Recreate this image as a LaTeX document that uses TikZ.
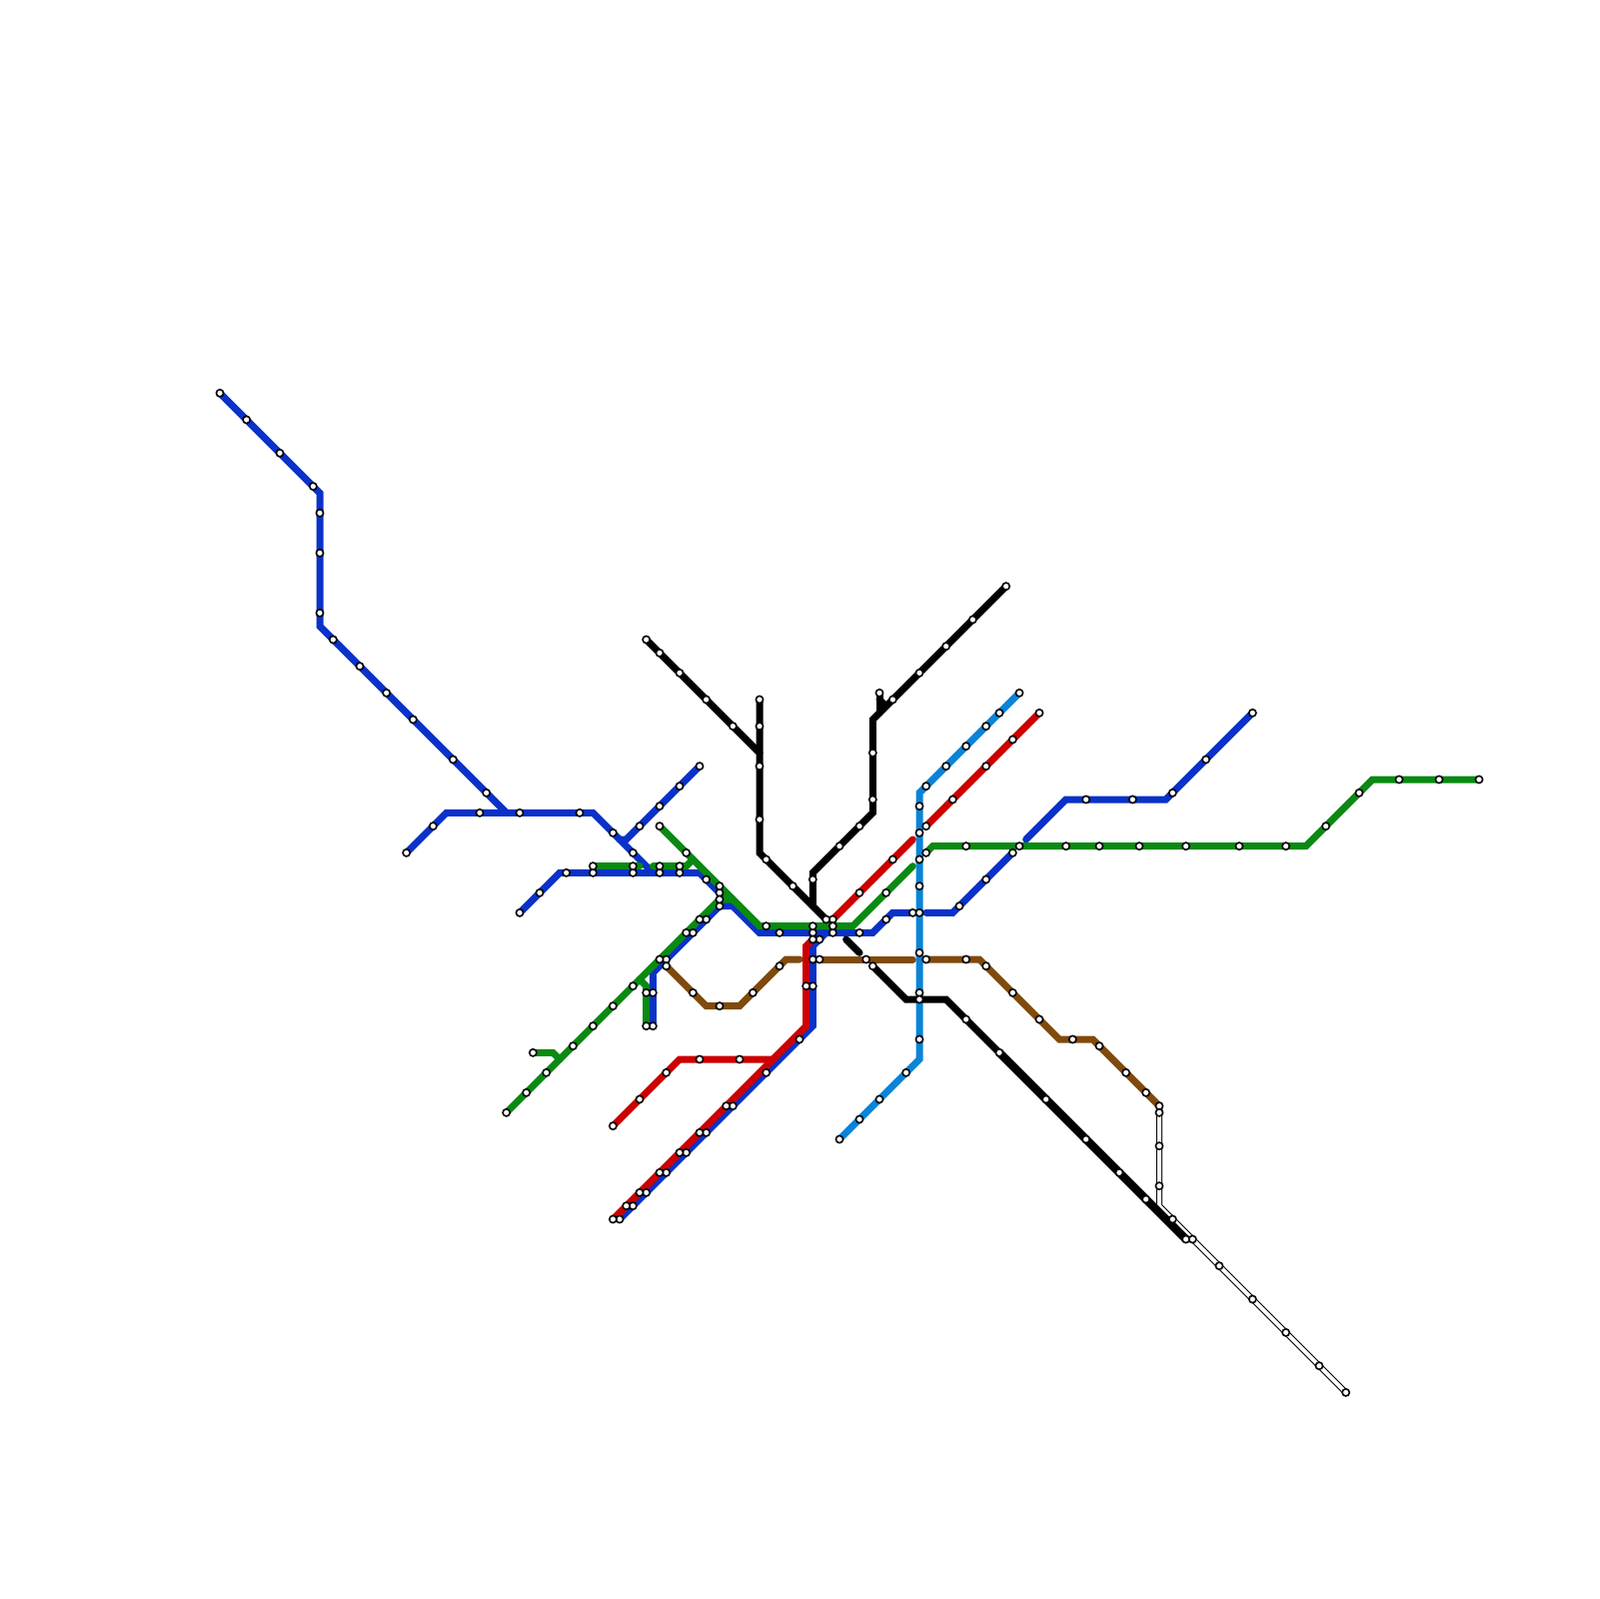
\documentclass[tikz,border=0pt]{standalone}
\usepackage{xcolor}
\usetikzlibrary{backgrounds}
\definecolor{cblue}{HTML}{0A32C8}
\definecolor{cgreen}{HTML}{0A8A12}
\definecolor{cred}{HTML}{CC0000}
\definecolor{cbrown}{HTML}{804A0C}
\definecolor{csky}{HTML}{0A84D8}
\tikzset{
  stn/.style={circle, draw=black, fill=white, line width=0.24mm, inner sep=0pt, outer sep=0pt, minimum size=1.08mm},
  lineb/.style={draw=cblue, line width=1.05mm, line cap=round},
  lineg/.style={draw=cgreen, line width=1.05mm, line cap=round},
  liner/.style={draw=cred, line width=1.05mm, line cap=round},
  linebr/.style={draw=cbrown, line width=1.05mm, line cap=round},
  linesk/.style={draw=csky, line width=1.05mm, line cap=round},
  linek/.style={draw=black, line width=1.05mm, line cap=round},
  linekk/.style={draw=black, line width=1.25mm, line cap=round},
  linew/.style={draw=black, double=white, double distance=0.6mm, line width=0.15mm},
}
\begin{document}
\begin{tikzpicture}[x=1mm, y=-1mm]
  \useasboundingbox (0,0) rectangle (240,240);
  % bends and loose ends
  \foreach \n/\x/\y in {nwa/48/74, nwb/48/94, nwc/76/122, wa/67/122, wb/89/122, wc/98/131,
    ca/94/126, cb/93/126, da/84/131, db/105/131, dc/114/140, dd/131/140, de/134/137,
    ea/139/137, eb/143/137, fa/154/126, fb/160/120, fc/175/120, ga/98/146, gb/110/136,
    ha/124/140, hb/122/142, hc/122/154, ra/137/126, ta/121/142, tb/121/154, ua/102/159, ub/116/159,
    ka/114/139, kb/128/139, kc/137/130, la/140/127, lb/196/127, lc/206/117, ma/110/135,
    na/83/158, nb/84/159, oa/97/148, ob/96/147, pa/96/130, qa/98/130, qb/103/130, qc/104/129,
    va/106/151, vb/111/151, vc/118/144, vd/120/144, wwa/137/144, xa/147/144, xb/159/156, xc/164/156,
    ya/138/119, yb/138/159, ba/114/113, bb/114/128, bc/131/108, bd/131/122, be/122/131, bf/122/136,
    bg/132/107, bh/132/105, bi/133/106, bj/127/141, bk/129/143, bl/136/150, bm/142/150, dla/174/181}
    \coordinate (\n) at (\x,\y);
  % stations
  \foreach \n/\x/\y in {nw1/33/59, nw2/37/63, nw3/42/68, nw4/47/73, nw5/48/77, nw6/48/83, nw7/48/92,
    nw8/50/96, nw9/54/100, nw10/58/104, nw11/62/108, nw12/68/114, nw13/73/119,
    w1/61/128, w2/65/124, w3/72/122, w4/78/122, w5/87/122, w6/92/125, w7/95/128,
    c1/105/115, c2/102/118, c3/99/121, c4/96/124,
    d1/78/137, d2/81/134, d3/85/131, d4/89/131, d5/95/131, d6/99/131, d7/102/131, d8/106/132, d9/108/134,
    d10/117/140, d11/122/140, d12/125/140, d13/129/140, d14/133/138, d15/137/137,
    e1/144/136, e2/148/132, e3/152/128, f1/163/120, f2/170/120, f3/176/119, f4/181/114, f5/188/107,
    g1/98/154, g2/98/149, g3/100/144, g4/104/140, g5/106/138, g6/108/136,
    h1/123/141, h2/122/144, h3/122/148, h4/120/156, h5/115/161, h6/110/166, h7/106/170,
    h8/103/173, h9/100/176, h10/97/179, h11/95/181, h12/93/183,
    r1/156/107, r2/152/111, r3/148/115, r4/143/120, r5/139/124, s1/134/129, s2/129/134, s3/125/138,
    t1/122/141, t2/121/148, t3/109/166, t4/105/170, t5/102/173, t6/99/176, t7/96/179, t8/94/181, t9/92/183,
    u1/92/169, u2/96/165, u3/100/161, u4/105/159, u5/111/159,
    k1/99/124, k2/103/128, k3/108/133, k4/115/139, k5/122/139, k6/125/139, k7/133/134,
    l1/139/128, l2/145/127, l3/153/127, l4/160/127, l5/165/127, l6/171/127, l7/178/127, l8/186/127,
    l9/193/127, l10/199/124, l11/204/119, l12/210/117, l13/216/117, l14/222/117,
    m1/76/167, m2/79/164, m3/82/161, m4/86/157, m5/89/154, m6/92/151, m7/95/148, m8/99/144,
    m9/103/140, m10/105/138, m11/108/135, n1/80/158, o1/97/154, o2/97/149,
    p1/89/130, p2/95/130, q1/99/130, q2/102/130,
    v1/100/145, v2/104/149, v3/108/151, v4/113/149, v5/117/145, ww1/123/144, ww2/130/144,
    x1/139/144, x2/145/144, x3/148/145, x4/152/149, x5/156/153, x6/161/156, x7/165/157,
    x8/169/161, x9/172/164, x10/174/166,
    y1/153/104, y2/150/107, y3/148/109, y4/145/112, y5/142/115, y6/139/118, y7/138/121, y8/138/125,
    y9/138/129, y10/138/133, y11/138/137, y12/138/143, y13/138/149, y14/138/150, y15/138/156,
    y16/136/161, y17/132/165, y18/129/168, y19/126/171,
    aa1/97/96, aa2/99/98, aa3/102/101, aa4/106/105, aa5/110/109,
    ab1/114/105, ab2/114/109, ab3/114/115, ab4/114/123, ab5/115/129, ab6/119/133, ab7/124/138,
    ac1/151/88, ac2/146/93, ac3/142/97, ac4/138/101, ac5/134/105, ac6/131/113, ac7/131/120,
    ac8/129/124, ac9/126/127, ac10/122/132, ad1/132/104,
    af1/131/145, af2/145/153, af3/150/158, af4/157/165, af5/163/171, af6/168/176, af7/172/180, af8/178/186,
    dl1/174/167, dl2/174/172, dl3/174/178, dl4/176/183, dl5/179/186, dl6/183/190,
    dl7/188/195, dl8/193/200, dl9/198/205, dl10/202/209}
    \node[stn] (\n) at (\x,\y) {};
  \begin{scope}[on background layer]
    % blue
    \draw[lineb] (nw1.center) -- (nw4.center) -- (nwa) -- (nw7.center) -- (nwb) -- (nw13.center) -- (nwc);
    \draw[lineb] (w1.center) -- (wa) -- (wb) -- (wc);
    \draw[lineb] (c1.center) -- (ca) -- (cb);
    \draw[lineb] (d1.center) -- (da) -- (db) -- (dc) -- (dd) -- (de) -- (d15.center);
    \draw[lineb] (ea) -- (eb) -- (e3.center);
    \draw[lineb] (fa) -- (fb) -- (fc) -- (f5.center);
    \draw[lineb] (g1.center) -- (ga) -- (g6.center) -- (gb);
    \draw[lineb] (ha) -- (hb) -- (hc) -- (h12.center);
    % green
    \draw[lineg] (k1.center) -- (ka) -- (kb) -- (kc);
    \draw[lineg] (l1.center) -- (la) -- (lb) -- (lc) -- (l14.center);
    \draw[lineg] (m1.center) -- (m11.center) -- (ma);
    \draw[lineg] (n1.center) -- (na) -- (nb);
    \draw[lineg] (o1.center) -- (oa) -- (ob);
    \draw[lineg] (p1.center) -- (pa);
    \draw[lineg] (qa) -- (qb) -- (qc);
    % red
    \draw[liner] (r1.center) -- (r5.center);
    \draw[liner] (ra) -- (s3.center);
    \draw[liner] (t1.center) -- (ta) -- (tb) -- (t9.center);
    \draw[liner] (u1.center) -- (ua) -- (ub);
    % brown
    \draw[linebr] (v1.center) -- (va) -- (vb) -- (vc) -- (vd);
    \draw[linebr] (ww1.center) -- (wwa);
    \draw[linebr] (x1.center) -- (xa) -- (xb) -- (xc) -- (x10.center);
    % sky
    \draw[linesk] (y1.center) -- (ya) -- (yb) -- (y19.center);
    % double line
    \draw[linew] (x10.center) -- (dla) -- (dl10.center);
    % black
    \draw[linek] (aa1.center) -- (ba);
    \draw[linek] (ab1.center) -- (bb) -- (ab7.center);
    \draw[linek] (ac1.center) -- (bc) -- (bd) -- (be) -- (bf);
    \draw[linek] (ad1.center) -- (bg);
    \draw[linek] (bh) -- (bi);
    \draw[linek] (bj) -- (bk);
    \draw[linek] (af1.center) -- (bl) -- (bm) -- (af3.center);
    \draw[linekk] (af3.center) -- (af8.center);
  \end{scope}
\end{tikzpicture}
\end{document}
